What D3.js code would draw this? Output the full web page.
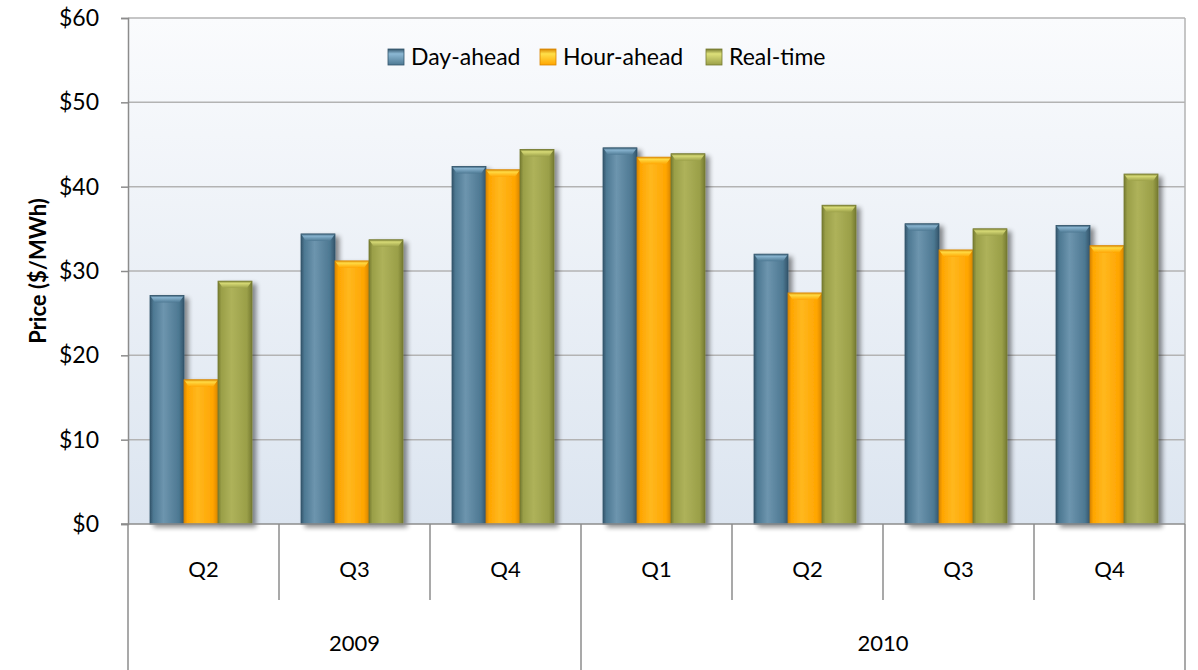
<!DOCTYPE html>
<html>
<head>
<meta charset="utf-8">
<script src="https://cdn.jsdelivr.net/npm/d3@7"></script>
<style>
  body { margin: 0; background: #fff; }
  text { font-family: Lato, "Open Sans", sans-serif; fill: #000; }
</style>
</head>
<body>
<div id="chart"></div>
<script>
// data
var quarters = ["Q2", "Q3", "Q4", "Q1", "Q2", "Q3", "Q4"];
var years = ["2009", "2009", "2009", "2010", "2010", "2010", "2010"];
var seriesNames = ["Day-ahead", "Hour-ahead", "Real-time"];
var dayAhead  = [27.1, 34.4, 42.4, 44.6, 32.0, 35.6, 35.4];
var hourAhead = [17.1, 31.2, 42.0, 43.5, 27.4, 32.5, 33.0];
var realTime  = [28.8, 33.7, 44.4, 43.9, 37.8, 35.0, 41.5];
var yTicks = [0, 10, 20, 30, 40, 50, 60];

var colors = [
  {base: "#4d7892", light: "#6d95ae", dark: "#33556b", cap: "#8cb8d4"},
  {base: "#ffa500", light: "#ffb81f", dark: "#d98600", cap: "#ffe04a"},
  {base: "#9a9f48", light: "#aeb25a", dark: "#757a30", cap: "#dde07a"}
];

var width = 1198, height = 670;
var margin = {left: 128, right: 13, top: 18, plotBottom: 524};

var svg = d3.select("#chart").append("svg")
  .attr("width", width)
  .attr("height", height);

var defs = svg.append("defs");
var bg = defs.append("linearGradient").attr("id", "bg")
  .attr("x1", 0).attr("y1", 0).attr("x2", 0).attr("y2", 1);
bg.append("stop").attr("offset", "0%").attr("stop-color", "#fafbfd");
bg.append("stop").attr("offset", "100%").attr("stop-color", "#dce5f0");

colors.forEach(function(c, i) {
  var g = defs.append("linearGradient").attr("id", "bar" + i)
    .attr("x1", 0).attr("y1", 0).attr("x2", 1).attr("y2", 0);
  g.append("stop").attr("offset", "0%").attr("stop-color", c.dark);
  g.append("stop").attr("offset", "10%").attr("stop-color", c.base);
  g.append("stop").attr("offset", "40%").attr("stop-color", c.light);
  g.append("stop").attr("offset", "85%").attr("stop-color", c.base);
  g.append("stop").attr("offset", "100%").attr("stop-color", c.dark);
  var t = defs.append("linearGradient").attr("id", "cap" + i)
    .attr("x1", 0).attr("y1", 0).attr("x2", 0).attr("y2", 1);
  t.append("stop").attr("offset", "0%").attr("stop-color", c.dark);
  t.append("stop").attr("offset", "30%").attr("stop-color", c.cap);
  t.append("stop").attr("offset", "100%").attr("stop-color", c.base);
});

var shadow = defs.append("filter").attr("id", "shadow")
  .attr("x", "-20%").attr("y", "-5%").attr("width", "160%").attr("height", "115%");
shadow.append("feGaussianBlur").attr("in", "SourceAlpha").attr("stdDeviation", 2.5);
shadow.append("feOffset").attr("dx", 4).attr("dy", 3).attr("result", "b");
shadow.append("feComponentTransfer").append("feFuncA").attr("type", "linear").attr("slope", 0.45);
var merge = shadow.append("feMerge");
merge.append("feMergeNode");
merge.append("feMergeNode").attr("in", "SourceGraphic");

var plotRight = width - margin.right;

var x = d3.scaleBand()
  .domain(d3.range(quarters.length))
  .range([margin.left, plotRight]);

var xInner = d3.scaleBand()
  .domain(d3.range(seriesNames.length))
  .range([22, 124]);

var y = d3.scaleLinear()
  .domain([0, 60])
  .range([margin.plotBottom, margin.top]);

// plot background
svg.append("rect")
  .attr("x", margin.left).attr("y", margin.top)
  .attr("width", plotRight - margin.left)
  .attr("height", margin.plotBottom - margin.top)
  .attr("fill", "url(#bg)");

// gridlines
svg.append("g").selectAll("line")
  .data(yTicks.filter(function(d) { return d > 0; }))
  .join("line")
  .attr("x1", margin.left).attr("x2", plotRight)
  .attr("y1", function(d) { return y(d); })
  .attr("y2", function(d) { return y(d); })
  .attr("stroke", "#b3b3b3").attr("stroke-width", 1.5);

// right border
svg.append("line")
  .attr("x1", plotRight).attr("x2", plotRight)
  .attr("y1", margin.top).attr("y2", margin.plotBottom)
  .attr("stroke", "#b3b3b3").attr("stroke-width", 1.5);

// bars
var series = [dayAhead, hourAhead, realTime];
series.forEach(function(vals, s) {
  var g = svg.append("g").attr("filter", "url(#shadow)");
  g.selectAll("rect.body")
    .data(vals)
    .join("rect")
    .attr("class", "body")
    .attr("x", function(d, i) { return x(i) + xInner(s); })
    .attr("y", function(d) { return y(d); })
    .attr("width", xInner.bandwidth())
    .attr("height", function(d) { return y(0) - y(d); })
    .attr("fill", "url(#bar" + s + ")")
    .attr("stroke", colors[s].dark).attr("stroke-width", 0.8);
  g.selectAll("path.cap")
    .data(vals)
    .join("path")
    .attr("class", "cap")
    .attr("d", function(d, i) {
      var x0 = x(i) + xInner(s), w = xInner.bandwidth(), y0 = y(d);
      return "M" + x0 + "," + y0 + "L" + (x0 + w) + "," + y0 +
        "L" + (x0 + w - 5) + "," + (y0 + 7) + "L" + (x0 + 5) + "," + (y0 + 7) + "Z";
    })
    .attr("fill", "url(#cap" + s + ")")
    .attr("opacity", 0.9);
});

// y axis
var yAxis = d3.axisLeft(y)
  .tickValues(yTicks)
  .tickSize(7)
  .tickPadding(22)
  .tickFormat(function(d) { return "$" + d; });
var ya = svg.append("g")
  .attr("transform", "translate(" + margin.left + ",0)")
  .call(yAxis);
ya.select(".domain").attr("stroke", "#8c8c8c").attr("stroke-width", 1.5);
ya.selectAll(".tick line").attr("stroke", "#8c8c8c").attr("stroke-width", 1.5);
ya.selectAll(".tick text")
  .style("font-family", "Lato, sans-serif")
  .attr("font-size", 23).attr("fill", "#000");

svg.append("text")
  .attr("transform", "translate(46," + ((margin.top + margin.plotBottom) / 2) + ") rotate(-90)")
  .attr("text-anchor", "middle")
  .attr("font-size", 22)
  .attr("font-weight", "bold")
  .text("Price ($/MWh)");

// category axis (two levels)
var axisColor = "#8c8c8c";
var cat = svg.append("g");
cat.append("line")
  .attr("x1", margin.left - 7).attr("x2", plotRight)
  .attr("y1", margin.plotBottom).attr("y2", margin.plotBottom)
  .attr("stroke", axisColor).attr("stroke-width", 1.5);

var boundaries = d3.range(quarters.length + 1);
cat.selectAll("line.div")
  .data(boundaries)
  .join("line")
  .attr("class", "div")
  .attr("x1", function(d) { return d === quarters.length ? plotRight : x(d); })
  .attr("x2", function(d) { return d === quarters.length ? plotRight : x(d); })
  .attr("y1", margin.plotBottom)
  .attr("y2", function(d) {
    var full = d === 0 || d === quarters.length || years[d] !== years[d - 1];
    return full ? height : 600;
  })
  .attr("stroke", axisColor).attr("stroke-width", 1.5);

cat.selectAll("text.q")
  .data(quarters)
  .join("text")
  .attr("class", "q")
  .attr("x", function(d, i) { return x(i) + x.bandwidth() / 2; })
  .attr("y", 577)
  .attr("text-anchor", "middle")
  .attr("font-size", 22)
  .text(function(d) { return d; });

var yearGroups = d3.groups(d3.range(years.length), function(i) { return years[i]; });
cat.selectAll("text.yr")
  .data(yearGroups)
  .join("text")
  .attr("class", "yr")
  .attr("x", function(d) {
    var first = d[1][0], last = d[1][d[1].length - 1];
    return (x(first) + x(last) + x.bandwidth()) / 2;
  })
  .attr("y", 651)
  .attr("text-anchor", "middle")
  .attr("font-size", 22)
  .text(function(d) { return d[0]; });

// legend
var legendX = [388, 540, 706];
var legend = svg.append("g").selectAll("g")
  .data(seriesNames)
  .join("g")
  .attr("transform", function(d, i) { return "translate(" + legendX[i] + ",49)"; });
legend.append("rect")
  .attr("width", 16).attr("height", 16)
  .attr("fill", function(d, i) { return "url(#cap" + i + ")"; })
  .attr("stroke", function(d, i) { return colors[i].dark; })
  .attr("stroke-width", 0.8);
legend.append("text")
  .attr("x", 23).attr("y", 16)
  .attr("font-size", 23)
  .text(function(d) { return d; });
</script>
</body>
</html>
